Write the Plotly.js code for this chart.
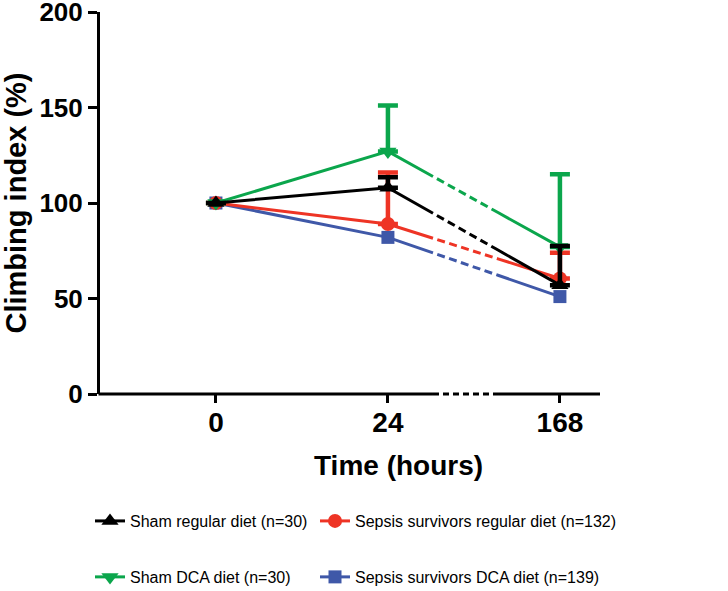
<!DOCTYPE html>
<html>
<head>
<meta charset="utf-8">
<script src="https://cdn.plot.ly/plotly-3.0.1.min.js"></script>
<style>html,body{margin:0;padding:0;background:#fff;}#chart{width:728px;height:591px;}</style>
</head>
<body>
<div id="chart"></div>
<script>
// ---- data ----
const timeLabels = ['0', '24', '168'];
const shamRegular = [100, 108, 57];
const shamRegularErr = [null, 5.5, 20.5];
const sepsisRegular = [100, 89, 60.5];
const sepsisRegularErr = [null, 27, 13.5];
const shamDCA = [100, 127, 77];
const shamDCAErr = [null, 24, 38];
const sepsisDCA = [100, 82, 51];
const seriesNames = [
  'Sham regular diet (n=30)',
  'Sepsis survivors regular diet (n=132)',
  'Sham DCA diet (n=30)',
  'Sepsis survivors DCA diet (n=139)'
];
const yTicks = [0, 50, 100, 150, 200];

// ---- style ----
const FONT = 'Liberation Sans, Arial, Helvetica, sans-serif';
const C_BLACK = '#000000', C_RED = '#EE3425', C_GREEN = '#0BA64C', C_BLUE = '#3F58A8';
const X_RANGE = [-0.674, 2.233];
const BREAK = [1.262, 1.640]; // axis break region (category axis units)
const LW = 3;

function errY(arr) {
  return {type: 'data', symmetric: false, array: arr, arrayminus: arr.map(v => v == null ? null : 0),
          thickness: 4.5, width: 10, visible: true};
}

const traces = [
  {x: timeLabels, y: sepsisDCA, name: seriesNames[3], legend: 'legend4',
   mode: 'lines+markers', line: {color: C_BLUE, width: LW},
   marker: {symbol: 'square', size: 13, color: C_BLUE}},
  {x: timeLabels, y: sepsisRegular, name: seriesNames[1], legend: 'legend2',
   mode: 'lines+markers', line: {color: C_RED, width: LW},
   marker: {symbol: 'circle', size: 14, color: C_RED}, error_y: errY(sepsisRegularErr)},
  {x: timeLabels, y: shamDCA, name: seriesNames[2], legend: 'legend3',
   mode: 'lines+markers', line: {color: C_GREEN, width: LW},
   marker: {symbol: 'triangle-down', size: 15, color: C_GREEN}, error_y: errY(shamDCAErr)},
  {x: timeLabels, y: shamRegular, name: seriesNames[0], legend: 'legend',
   mode: 'lines+markers', line: {color: C_BLACK, width: LW},
   marker: {symbol: 'triangle-up', size: 15, color: C_BLACK}, error_y: errY(shamRegularErr)}
];

function px(v) { return (v - X_RANGE[0]) / (X_RANGE[1] - X_RANGE[0]); }

const legendFont = {family: FONT, size: 16, color: '#000'};
function legendAt(x, y) {
  return {orientation: 'h', x: x, xanchor: 'left', y: y, yanchor: 'middle',
          itemwidth: 30, font: legendFont, bgcolor: 'rgba(0,0,0,0)'};
}

const layout = {
  width: 728, height: 591,
  margin: {l: 100, r: 128, t: 12, b: 197, autoexpand: false},
  paper_bgcolor: '#fff', plot_bgcolor: '#fff',
  showlegend: true,
  font: {family: FONT, color: '#000'},
  xaxis: {
    type: 'category', categoryorder: 'array', categoryarray: timeLabels,
    range: X_RANGE, showline: false, showgrid: false, zeroline: false,
    ticks: 'outside', ticklen: 8, tickwidth: 3, tickcolor: '#000',
    ticklabelstandoff: -5,
    tickfont: {family: FONT, size: 28, weight: 'bold', color: '#000'}
  },
  yaxis: {
    range: [0, 200], tickvals: yTicks, ticktext: yTicks.map(String),
    showline: true, linewidth: 3, linecolor: '#000', showgrid: false, zeroline: false,
    ticks: 'outside', ticklen: 9, tickwidth: 3, tickcolor: '#000',
    ticklabeloverflow: 'allow',
    tickfont: {family: FONT, size: 26, weight: 'bold', color: '#000'},
    title: {text: 'Climbing index (%)', standoff: 8, font: {family: FONT, size: 29, weight: 'bold', color: '#000'}}
  },
  legend: legendAt(-0.02, -0.3325),
  legend2: legendAt(0.43, -0.3325),
  legend3: legendAt(-0.02, -0.479),
  legend4: legendAt(0.43, -0.479),
  annotations: [
    {text: 'Time (hours)', xref: 'paper', yref: 'paper', x: px(1.06), y: -0.186, xanchor: 'center', yanchor: 'middle',
     showarrow: false, font: {family: FONT, size: 28, weight: 'bold', color: '#000'}}
  ],
  shapes: [
    {type: 'line', xref: 'paper', yref: 'paper', x0: -0.003, x1: px(BREAK[0]), y0: 0, y1: 0, line: {color: '#000', width: 3}},
    {type: 'line', xref: 'paper', yref: 'paper', x0: px(BREAK[0]), x1: px(BREAK[1]), y0: 0, y1: 0, line: {color: '#000', width: 3, dash: '6px,4px'}},
    {type: 'line', xref: 'paper', yref: 'paper', x0: px(BREAK[1]), x1: 1, y0: 0, y1: 0, line: {color: '#000', width: 3}}
  ]
};

const gd = document.getElementById('chart');
Plotly.newPlot(gd, traces, layout, {staticPlot: true}).then(function () {
  // dash each series inside the axis-break region, using the library's own scales
  const xa = gd._fullLayout.xaxis, ya = gd._fullLayout.yaxis;
  const dashes = gd.data.map(function (tr) {
    const p = [0, 1, 2].map(i => [xa.l2p(i), ya.l2p(tr.y[i])]);
    const L1 = Math.hypot(p[1][0] - p[0][0], p[1][1] - p[0][1]);
    const L2 = Math.hypot(p[2][0] - p[1][0], p[2][1] - p[1][1]);
    const f1 = BREAK[0] - 1, f2 = BREAK[1] - 1;
    const parts = [L1 + f1 * L2];
    let remaining = (f2 - f1) * L2;
    const dash = 8, gap = 4.5;
    let on = false;
    while (remaining > 0) {
      const seg = Math.min(on ? dash : gap, remaining);
      parts.push(seg);
      remaining -= seg;
      on = !on;
    }
    if (!on) parts.push(0);
    parts.push(2000, 0);
    if (parts.length % 2) parts.push(0);
    return parts.map(v => v.toFixed(2) + 'px').join(',');
  });
  return Plotly.restyle(gd, {'line.dash': dashes});
});
</script>
</body>
</html>
